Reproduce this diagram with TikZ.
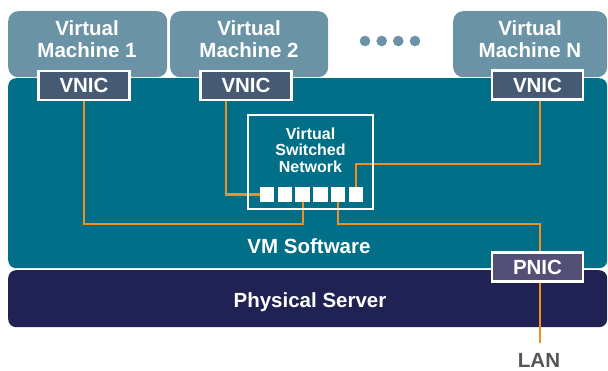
\documentclass[tikz,border=0pt]{standalone}
\usepackage{fontspec}
\setmainfont{Liberation Sans}
\usetikzlibrary{calc}
\definecolor{vmgray}{HTML}{6A93A6}
\definecolor{tealbg}{HTML}{016F87}
\definecolor{navy}{HTML}{1F2253}
\definecolor{vnicfill}{HTML}{465A74}
\definecolor{pnicfill}{HTML}{544F77}
\definecolor{wireorange}{HTML}{F2901F}
\definecolor{langray}{HTML}{555555}
\pgfdeclarelayer{back}
\pgfdeclarelayer{mid}
\pgfsetlayers{back,mid,main}
\begin{document}
\begin{tikzpicture}[x=1pt,y=-1pt,
  vmbox/.style={fill=vmgray, rounded corners=10pt, anchor=north west, inner sep=0pt, minimum height=66pt},
  bigtxt/.style={text=white, font=\fontsize{20.5}{22}\selectfont\bfseries, align=center, inner sep=0pt},
  nic/.style={draw=white, line width=2.2pt, minimum width=91pt, minimum height=29pt, inner sep=0pt,
              text=white, font=\fontsize{20.5}{22}\selectfont\bfseries},
  port/.style={fill=white, minimum size=14.4pt, inner sep=0pt},
  wire/.style={draw=wireorange, line width=2.2pt},
  layerbox/.style={rounded corners=8pt, anchor=north west, inner sep=0pt, minimum width=599pt}
]
\useasboundingbox (0,0) rectangle (608,370);

\begin{pgfonlayer}{back}
  \node[vmbox, minimum width=159pt] (vm1) at (8,11) {};
  \node[vmbox, minimum width=158pt] (vm2) at (170,11) {};
  \node[vmbox, minimum width=154pt] (vmN) at (453,11) {};
  \node[layerbox, fill=tealbg, minimum height=190pt] (sw) at (8,78) {};
  \node[layerbox, fill=navy, minimum height=57pt] (hw) at (8,270) {};
\end{pgfonlayer}

% VM labels
\node[bigtxt] (vm1t) at (87,39.5) {Virtual\\Machine 1};
\node[bigtxt] (vm2t) at (249,39.5) {Virtual\\Machine 2};
\node[bigtxt] (vmNt) at (530,39.5) {Virtual\\Machine N};

% dots
\foreach \i/\xx in {1/365,2/381.7,3/398.3,4/415}
  \fill[vmgray] (\xx,41) circle (5.3pt);

% NICs
\node[nic, fill=vnicfill] (v1) at (84,85.5) {VNIC};
\node[nic, fill=vnicfill] (v2) at (246,85.5) {VNIC};
\node[nic, fill=vnicfill] (vN) at (537.5,85) {VNIC};
\node[nic, fill=pnicfill] (pnic) at (537.5,267) {PNIC};

% switch
\node[draw=white, line width=2pt, minimum width=125pt, minimum height=94pt, inner sep=0pt] (vsn) at (310.5,162) {};
\node[text=white, font=\fontsize{16}{16.6}\selectfont\bfseries, align=center, inner sep=0pt] (vsnt) at (310.5,150) {Virtual\\Switched\\Network};
\foreach \i in {1,...,6}
  \node[port] (p\i) at ({267+17.8*(\i-1)},194.5) {};

% layer labels
\node[bigtxt, anchor=base] (swt) at (309,253) {VM Software};
\node[bigtxt, anchor=base] (hwt) at (310,307) {Physical Server};

\coordinate (bus) at (0,224);
\coordinate (upbus) at (0,164);
\coordinate (lanend) at (540,343);
\node[text=langray, font=\fontsize{20.5}{22}\selectfont\bfseries, inner sep=0pt] (lan) at (539,360) {LAN};

\begin{pgfonlayer}{mid}
  \draw[wire] (v1.south) |- (p3.south |- bus) -- (p3.south);
  \draw[wire] ([xshift=-20pt]v2.south) |- (p1.west);
  \draw[wire] ([xshift=2.5pt]vN.south) |- (p6.north |- upbus) -- (p6.north);
  \draw[wire] (p5.south) |- (lanend |- bus) -- (lanend);
\end{pgfonlayer}
\end{tikzpicture}
\end{document}
